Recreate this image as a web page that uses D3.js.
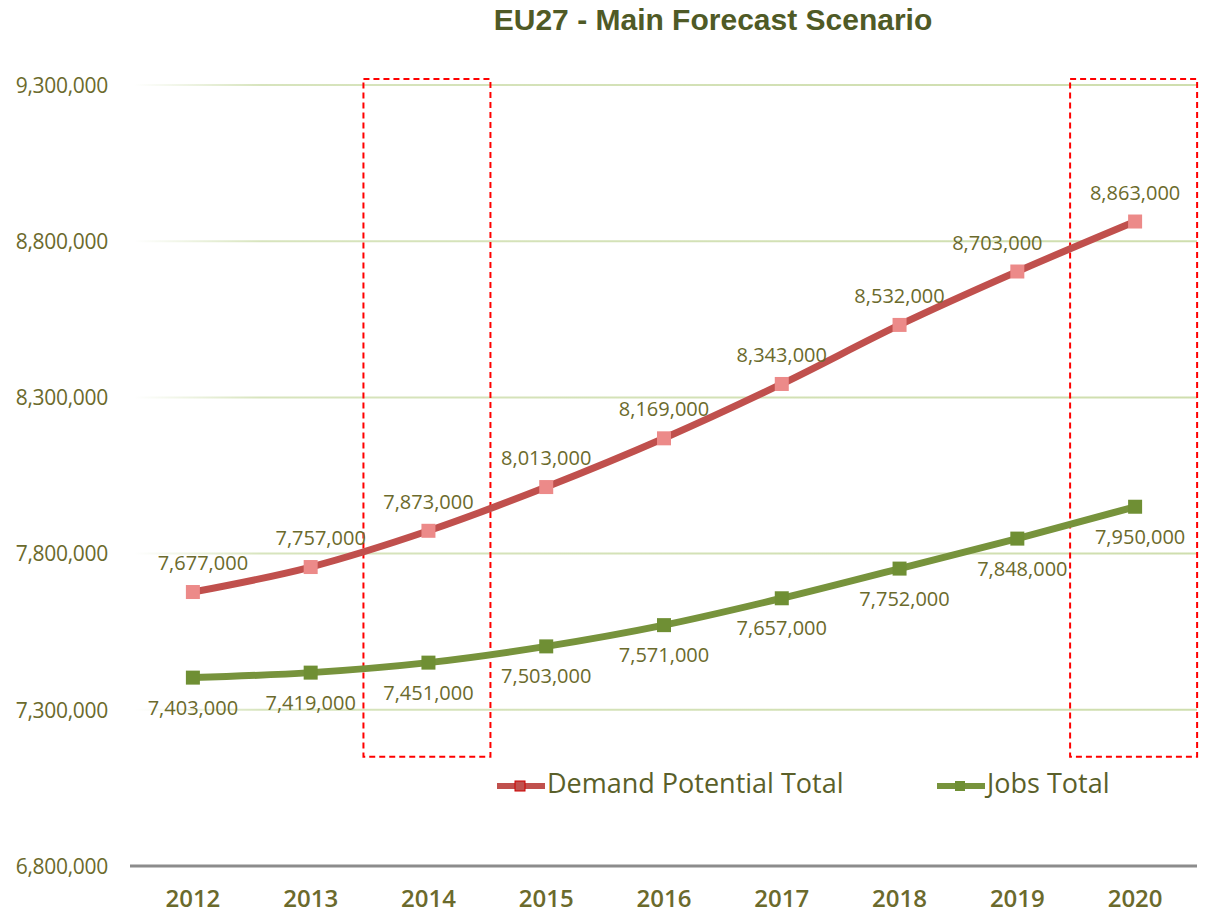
<!DOCTYPE html>
<html>
<head>
<meta charset="utf-8">
<script src="https://cdn.jsdelivr.net/npm/d3@7"></script>
<style>
  body { margin: 0; background: #fff; }
  svg { display: block; }
</style>
</head>
<body>
<div id="chart"></div>
<script>
const years = ['2012', '2013', '2014', '2015', '2016', '2017', '2018', '2019', '2020'];
const demandTotal = [7677000, 7757000, 7873000, 8013000, 8169000, 8343000, 8532000, 8703000, 8863000];
const jobsTotal = [7403000, 7419000, 7451000, 7503000, 7571000, 7657000, 7752000, 7848000, 7950000];
const yTicks = [6800000, 7300000, 7800000, 8300000, 8800000, 9300000];
const highlightYears = ['2014', '2020'];

const width = 1210;
const height = 923;
const fmt = d3.format(',');
const olive = '#6b6a2c';

const svg = d3.select('#chart')
  .append('svg')
  .attr('width', width)
  .attr('height', height);

const scaleX = d3.scaleBand()
  .domain(years)
  .range([134, 1194]);

const scaleY = d3.scaleLinear()
  .domain([6800000, 9300000])
  .range([866, 85]);

const cx = d => scaleX(d) + scaleX.bandwidth() / 2;

// gridline fade
const defs = svg.append('defs');
const grad = defs.append('linearGradient')
  .attr('id', 'gridFade')
  .attr('gradientUnits', 'userSpaceOnUse')
  .attr('x1', 134).attr('x2', 1197).attr('y1', 0).attr('y2', 0);
grad.append('stop').attr('offset', '0%').attr('stop-color', '#d7e4bd').attr('stop-opacity', 0);
grad.append('stop').attr('offset', '12%').attr('stop-color', '#d7e4bd').attr('stop-opacity', 1);
grad.append('stop').attr('offset', '100%').attr('stop-color', '#cfdeae').attr('stop-opacity', 1);

// title
svg.append('text')
  .attr('x', 713)
  .attr('y', 30)
  .attr('text-anchor', 'middle')
  .attr('font-family', 'Liberation Sans Narrow, Arial Narrow, sans-serif')
  .attr('font-weight', 'bold')
  .attr('font-size', 30)
  .attr('fill', '#4f5a26')
  .text('EU27 - Main Forecast Scenario');

// gridlines
svg.append('g')
  .selectAll('line')
  .data(yTicks.slice(1))
  .join('line')
  .attr('x1', 134)
  .attr('x2', 1197)
  .attr('y1', d => scaleY(d))
  .attr('y2', d => scaleY(d))
  .attr('stroke', 'url(#gridFade)')
  .attr('stroke-width', 2);

// y axis labels
const axisY = d3.axisLeft(scaleY)
  .tickValues(yTicks)
  .tickFormat(fmt)
  .tickSize(0);

const gy = svg.append('g')
  .attr('transform', 'translate(108, 0)')
  .call(axisY);
gy.select('.domain').remove();
gy.selectAll('text')
  .attr('font-family', 'Open Sans, sans-serif')
  .attr('font-size', 21)
  .attr('letter-spacing', -0.3)
  .attr('fill', olive)
  .attr('x', 0)
  .attr('dy', '0.35em');

// x axis
const axisX = d3.axisBottom(scaleX).tickSize(0);
const gx = svg.append('g')
  .attr('transform', `translate(0, ${scaleY(6800000)})`)
  .call(axisX);
gx.select('.domain')
  .attr('d', 'M130,0H1197')
  .attr('stroke', '#8c8c8c')
  .attr('stroke-width', 3);
gx.selectAll('text')
  .attr('font-family', 'Open Sans, sans-serif')
  .attr('font-size', 24)
  .attr('font-weight', 600)
  .attr('fill', olive)
  .attr('dy', '1.6em');

// highlight boxes
svg.append('g')
  .selectAll('rect')
  .data(highlightYears)
  .join('rect')
  .attr('x', d => cx(d) - 65)
  .attr('y', scaleY(9300000) - 6)
  .attr('width', 127)
  .attr('height', scaleY(7300000) - scaleY(9300000) + 53)
  .attr('fill', 'none')
  .attr('stroke', '#ff0000')
  .attr('stroke-width', 2)
  .attr('stroke-dasharray', '6,4');

const line = d3.line()
  .x((d, i) => cx(years[i]))
  .y(d => scaleY(d))
  .curve(d3.curveMonotoneX);

const series = [
  { name: 'Demand Potential Total', values: demandTotal, color: '#c0504d', marker: '#ec8a89', labelDy: -29 },
  { name: 'Jobs Total', values: jobsTotal, color: '#77933c', marker: '#6f8f34', labelDy: 30 }
];

series.forEach(s => {
  const g = svg.append('g');
  g.append('path')
    .attr('fill', 'none')
    .attr('stroke', s.color)
    .attr('stroke-width', 7)
    .attr('stroke-linecap', 'round')
    .attr('d', line(s.values));

  g.selectAll('rect')
    .data(s.values)
    .join('rect')
    .attr('x', (d, i) => cx(years[i]) - 7)
    .attr('y', d => scaleY(d) - 7)
    .attr('width', 14)
    .attr('height', 14)
    .attr('fill', s.marker);

  g.selectAll('text')
    .data(s.values)
    .join('text')
    .attr('x', (d, i) => cx(years[i]) + (s.labelDy < 0 && i === 7 ? -20 : 0) + (s.labelDy < 0 && i < 2 ? 10 : 0) + (s.labelDy > 0 && i >= 6 ? 5 : 0))
    .attr('y', d => scaleY(d) + s.labelDy)
    .attr('dy', '0.35em')
    .attr('text-anchor', 'middle')
    .attr('font-family', 'Open Sans, sans-serif')
    .attr('font-size', 20)
    .attr('fill', olive)
    .text(d => fmt(d));
});

// legend
const legend = svg.append('g');
const legendItems = [
  { s: series[0], x: 497 },
  { s: series[1], x: 937 }
];
legendItems.forEach(({ s, x }) => {
  legend.append('line')
    .attr('x1', x).attr('x2', x + 48)
    .attr('y1', 786).attr('y2', 786)
    .attr('stroke', s.color)
    .attr('stroke-width', 6);
  legend.append('rect')
    .attr('x', x + 18).attr('y', 781)
    .attr('width', 10).attr('height', 10)
    .attr('fill', s === series[0] ? '#c0504d' : '#6f8f34')
    .attr('stroke', s === series[0] ? '#cc0000' : 'none')
    .attr('stroke-width', 1);
  legend.append('text')
    .attr('x', x + 50)
    .attr('y', 784)
    .attr('dy', '0.35em')
    .attr('font-family', 'Open Sans, sans-serif')
    .attr('font-size', 27)
    .attr('fill', '#5a5f2a')
    .text(s.name);
});
</script>
</body>
</html>
